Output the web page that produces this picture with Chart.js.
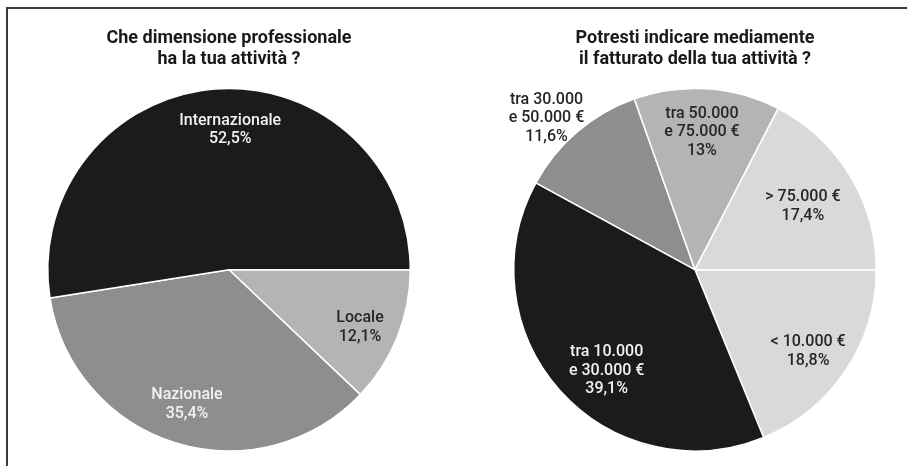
<!DOCTYPE html>
<html>
<head>
<meta charset="utf-8">
<script src="https://cdn.jsdelivr.net/npm/chart.js@4.4.1/dist/chart.umd.min.js"></script>
<style>
  html, body { margin: 0; padding: 0; background: #fff; }
  body { width: 907px; height: 466px; position: relative; overflow: hidden; }
  .frame { position: absolute; left: 6px; top: 7px; width: 1000px; height: 1000px;
           border-top: 2px solid #3c3c3c; border-left: 2px solid #3c3c3c; }
  .panel { position: absolute; top: 0; height: 466px; }
  #left { left: 0; width: 460px; }
  #right { left: 460px; width: 447px; }
</style>
</head>
<body>
<div class="frame"></div>
<div class="panel" id="left"><canvas id="cDim"></canvas></div>
<div class="panel" id="right"><canvas id="cFat"></canvas></div>
<script>
// Dimensione professionale
const dimTitle = ['Che dimensione professionale', 'ha la tua attività ?'];
const dimLabels = [['Locale'], ['Nazionale'], ['Internazionale']];
const dimValues = [12.1, 35.4, 52.5];

// Fatturato medio
const fatTitle = ['Potresti indicare mediamente', 'il fatturato della tua attività ?'];
const fatLabels = [
  ['< 10.000 €'],
  ['tra 10.000', 'e 30.000 €'],
  ['tra 30.000', 'e 50.000 €'],
  ['tra 50.000', 'e 75.000 €'],
  ['> 75.000 €']
];
const fatValues = [18.8, 39.1, 11.6, 13, 17.4];

const BLACK = '#1b1b1b', MID = '#8e8e8e', LIGHT = '#b4b4b4', PALE = '#d9d9d9';
const WHITE_TXT = '#f2f2f2', DARK_TXT = '#262626';
const FONT = 'Roboto, "Open Sans", sans-serif';

// Draws "name / value%" inside (or just outside) each slice
const sliceLabels = {
  id: 'sliceLabels',
  afterDatasetsDraw(chart, args, opts) {
    const ctx = chart.ctx;
    const meta = chart.getDatasetMeta(0);
    const ds = chart.data.datasets[0];
    ctx.save();
    ctx.font = opts.font;
    ctx.textAlign = 'center';
    ctx.textBaseline = 'middle';
    meta.data.forEach((arc, i) => {
      const p = arc.getProps(['x', 'y', 'startAngle', 'endAngle', 'outerRadius'], true);
      const shift = (opts.angleShift[i] || 0) * Math.PI / 180;
      const mid = (p.startAngle + p.endAngle) / 2 + shift;
      const r = p.outerRadius * opts.radius[i];
      const cx = p.x + Math.cos(mid) * r;
      const cy = p.y + Math.sin(mid) * r;
      const lines = chart.data.labels[i].concat([String(ds.data[i]).replace('.', ',') + '%']);
      const lh = opts.lineHeight;
      const y0 = cy - (lines.length - 1) * lh / 2;
      ctx.fillStyle = opts.colors[i];
      lines.forEach((t, k) => ctx.fillText(t, cx, y0 + k * lh));
    });
    ctx.restore();
  }
};

function makePie(id, title, labels, values, colors, pad, labelOpts) {
  return new Chart(document.getElementById(id), {
    type: 'pie',
    data: {
      labels: labels,
      datasets: [{
        data: values,
        backgroundColor: colors,
        borderColor: '#ffffff',
        borderWidth: 1.5
      }]
    },
    options: {
      responsive: true,
      maintainAspectRatio: false,
      animation: false,
      rotation: 90,
      layout: { padding: pad },
      plugins: {
        legend: { display: false },
        tooltip: { enabled: false },
        title: {
          display: true,
          text: title,
          color: '#1a1a1a',
          font: { family: FONT, size: 18, weight: 'bold', lineHeight: 1.15 },
          padding: { top: 20, bottom: 18 }
        },
        sliceLabels: Object.assign({ font: '500 16px ' + FONT, lineHeight: 18.5 }, labelOpts)
      }
    },
    plugins: [sliceLabels]
  });
}

makePie('cDim', dimTitle, dimLabels, dimValues,
  [LIGHT, MID, BLACK],
  { top: 8, bottom: 14, left: 47, right: 49 },
  { radius: [0.79, 0.78, 0.77], angleShift: [2, 0, 5], colors: [DARK_TXT, WHITE_TXT, WHITE_TXT] });

makePie('cFat', fatTitle, fatLabels, fatValues,
  [PALE, BLACK, MID, LIGHT, PALE],
  { top: 8, bottom: 14, left: 53, right: 30 },
  { radius: [0.77, 0.74, 1.17, 0.76, 0.69], angleShift: [2, -7, -4, -1, 1], colors: [DARK_TXT, WHITE_TXT, DARK_TXT, DARK_TXT, DARK_TXT] });
</script>
</body>
</html>
